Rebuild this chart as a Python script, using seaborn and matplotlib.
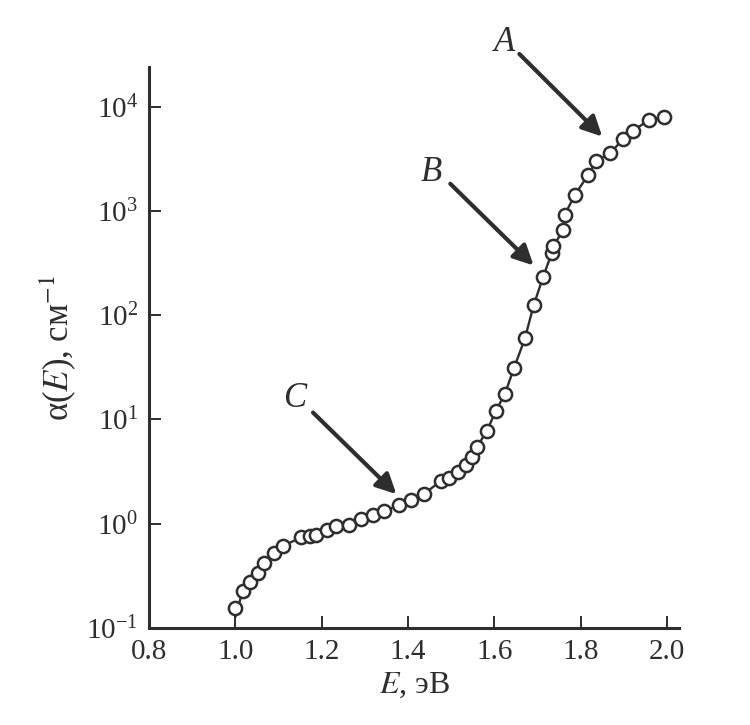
import numpy as np
import pandas as pd
import matplotlib
matplotlib.use("Agg")
import matplotlib.pyplot as plt
import seaborn as sns

# ----------------------------
# Data
# ----------------------------
energy_ev = [1.000, 1.017, 1.034, 1.053, 1.067, 1.090, 1.111, 1.153, 1.172, 1.188,
             1.213, 1.234, 1.263, 1.292, 1.319, 1.344, 1.380, 1.407, 1.436, 1.477,
             1.496, 1.515, 1.535, 1.548, 1.560, 1.583, 1.603, 1.624, 1.646, 1.671,
             1.691, 1.713, 1.733, 1.737, 1.760, 1.763, 1.787, 1.818, 1.836, 1.868,
             1.899, 1.922, 1.958, 1.993]
alpha_cm = [0.155, 0.228, 0.277, 0.339, 0.417, 0.52, 0.614, 0.74, 0.76, 0.78,
            0.87, 0.955, 0.98, 1.10, 1.21, 1.32, 1.51, 1.68, 1.92, 2.58,
            2.72, 3.14, 3.64, 4.37, 5.46, 7.77, 12.0, 17.4, 31.4, 60,
            124, 232, 394, 460, 659, 917, 1435, 2220, 3040, 3570,
            4900, 5890, 7450, 8010]
# the curve drops to the axis at the first point
curve_start = [1.000, 0.1]

x_ticks = [0.8, 1.0, 1.2, 1.4, 1.6, 1.8, 2.0]
x_tick_labels = ["0.8", "1.0", "1.2", "1.4", "1.6", "1.8", "2.0"]
y_ticks = [1e-1, 1e0, 1e1, 1e2, 1e3, 1e4]

# arrow labels: (text, text pos, arrow tail, arrow tip) in data coords
labels = ["A", "B", "C"]
label_xy = [(1.623, 10 ** 4.613), (1.454, 10 ** 3.368), (1.138, 10 ** 1.203)]
tail_xy = [(1.658, 10 ** 4.505), (1.498, 10 ** 3.260), (1.180, 10 ** 1.066)]
tip_xy = [(1.850, 10 ** 3.713), (1.691, 10 ** 2.477), (1.373, 10 ** 0.284)]

df = pd.DataFrame({"E": energy_ev, "alpha": alpha_cm})
line_df = pd.DataFrame({"E": [curve_start[0]] + energy_ev,
                        "alpha": [curve_start[1]] + alpha_cm})

# ----------------------------
# Style
# ----------------------------
sns.set_style("ticks")
plt.rcParams["font.family"] = ["Liberation Serif", "DejaVu Serif"]
plt.rcParams["mathtext.fontset"] = "stix"
ink = "#2e2e2e"

fig = plt.figure(figsize=(7.5, 7.25), dpi=100)
ax = fig.add_axes([0.1987, 0.1338, 0.7067, 0.7738])

sns.lineplot(data=line_df, x="E", y="alpha", sort=False, color=ink,
             linewidth=1.7, ax=ax)
sns.scatterplot(data=df, x="E", y="alpha", marker="o", s=90,
                facecolor="white", edgecolor=ink, linewidth=1.8,
                zorder=3, ax=ax)

ax.set_yscale("log")
ax.set_xlim(0.8, 2.028)
ax.set_ylim(0.1, 10 ** 4.38)
ax.set_xticks(x_ticks)
ax.set_xticklabels(x_tick_labels)
ax.set_yticks(y_ticks)
ax.yaxis.set_major_formatter(matplotlib.ticker.LogFormatterSciNotation())
ax.yaxis.set_minor_locator(matplotlib.ticker.NullLocator())

sns.despine(ax=ax)
for side in ["left", "bottom"]:
    ax.spines[side].set_linewidth(2.2)
    ax.spines[side].set_color(ink)
ax.tick_params(axis="both", direction="in", length=8.5, width=1.4,
               color=ink, labelsize=21, labelcolor=ink, pad=8)

ax.set_xlabel("$E$, эВ", fontsize=23, color=ink, labelpad=4)
ax.set_ylabel("α($E$), см$^{-1}$", fontsize=25, color=ink, labelpad=6)

# ----------------------------
# Arrows A, B, C
# ----------------------------
for name, txy, t0, t1 in zip(labels, label_xy, tail_xy, tip_xy):
    ax.annotate("", xy=t1, xytext=t0, annotation_clip=False,
                arrowprops=dict(arrowstyle="-|>", color=ink, lw=3,
                                mutation_scale=30, shrinkA=0, shrinkB=0))
    ax.text(txy[0], txy[1], name, fontsize=25, style="italic", color=ink,
            ha="center", va="center", clip_on=False)

plt.savefig("out.png", dpi=100)
